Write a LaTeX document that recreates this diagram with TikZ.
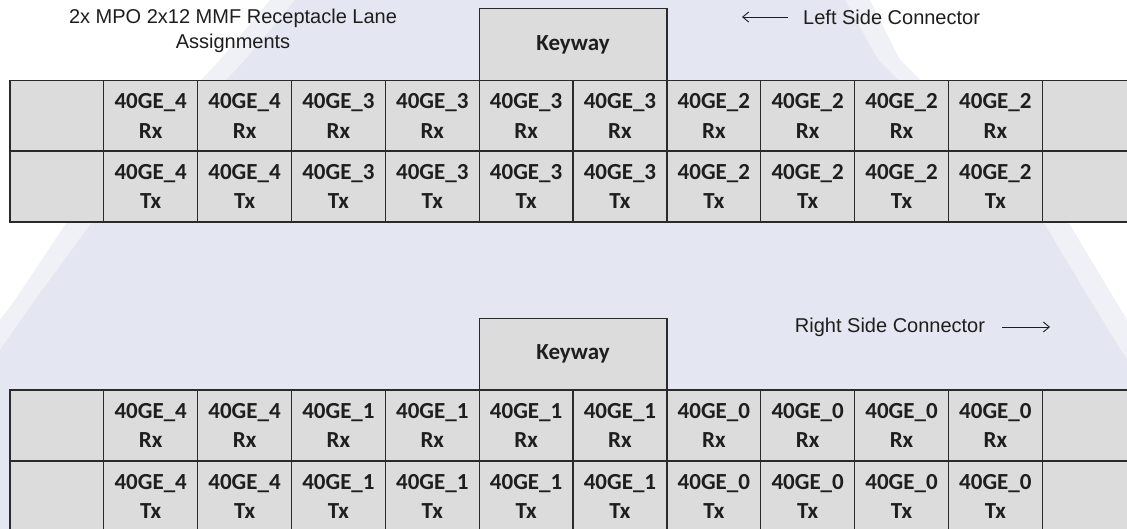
\documentclass[tikz,border=0pt]{standalone}
\usepackage{fontspec}
\setmainfont{Liberation Sans}
\newfontfamily\cellfont{Carlito}
\usetikzlibrary{arrows.meta}
\definecolor{cellgray}{HTML}{DCDCDC}
\definecolor{wmark}{HTML}{E4E7F1}
\definecolor{wmarklight}{HTML}{EFF1F7}
\definecolor{edgecol}{HTML}{2A2A2A}
\definecolor{txtcol}{HTML}{1E1E1E}
\begin{document}
\begin{tikzpicture}[x=1pt,y=-1pt,
  cellbox/.style={draw=edgecol, line width=1.3pt, fill=cellgray,
    minimum width=93.85pt, minimum height=71pt, inner sep=0pt,
    anchor=north west, align=center,
    font=\cellfont\bfseries\fontsize{23}{29.5}\selectfont, text=txtcol},
  keybox/.style={cellbox, minimum width=187.7pt, minimum height=71.5pt},
  plain/.style={font=\fontsize{20}{25}\selectfont, text=txtcol, inner sep=0pt, align=center},
  arr/.style={line width=0.9pt, draw=txtcol, -{Straight Barb[length=6pt,width=10pt]}}
]
\useasboundingbox (0,0) rectangle (1127,529);
\clip (0,0) rectangle (1127,529);
% background watermark
\fill[white] (0,0) rectangle (1127,529);
\fill[wmarklight] (270,0) -- (870,0) -- (900,60) -- (1070,225) -- (1115,300) -- (1127,320)
  -- (1127,529) -- (0,529) -- (0,320) -- (15,300) -- (65,225) -- (220,60) -- cycle;
\fill[wmark] (295,0) -- (845,0) -- (878,60) -- (1045,225) -- (1090,300) -- (1127,360)
  -- (1127,529) -- (0,529) -- (0,350) -- (35,300) -- (90,225) -- (245,60) -- cycle;

% title and side labels
\node[plain] (title) at (233,31) {2x MPO 2x12 MMF Receptacle Lane\\Assignments};
\node[plain, anchor=west] (lsc) at (803,17) {Left Side Connector};
\coordinate (lsA) at (788,17);
\coordinate (lsB) at (742,17);
\draw[arr] (lsA) -- (lsB);
\node[plain] (rsc) at (890,327) {Right Side Connector};
\coordinate (rsA) at (1002,327);
\coordinate (rsB) at (1050,327);
\draw[arr] (rsA) -- (rsB);

% top connector
\node[keybox] (key1) at (478.55,8.1) {Keyway};
\foreach \r/\y/\s in {1/79.6/Rx, 2/150.5/Tx}{
  \node[cellbox] (t\r c0) at (9.3,\y) {};
  \foreach \i/\g in {1/4,2/4,3/3,4/3,5/3,6/3,7/2,8/2,9/2,10/2}{
    \node[cellbox] (t\r c\i) at ({9.3+93.85*\i},\y) {40GE\_\g\\\s};
  }
  \node[cellbox] (t\r c11) at ({9.3+93.85*11},\y) {};
}

% bottom connector
\node[keybox] (key2) at (478.55,317.8) {Keyway};
\foreach \r/\y/\s in {1/389.3/Rx, 2/460.2/Tx}{
  \node[cellbox] (b\r c0) at (9.3,\y) {};
  \foreach \i/\g in {1/4,2/4,3/1,4/1,5/1,6/1,7/0,8/0,9/0,10/0}{
    \node[cellbox] (b\r c\i) at ({9.3+93.85*\i},\y) {40GE\_\g\\\s};
  }
  \node[cellbox] (b\r c11) at ({9.3+93.85*11},\y) {};
}
\end{tikzpicture}
\end{document}
